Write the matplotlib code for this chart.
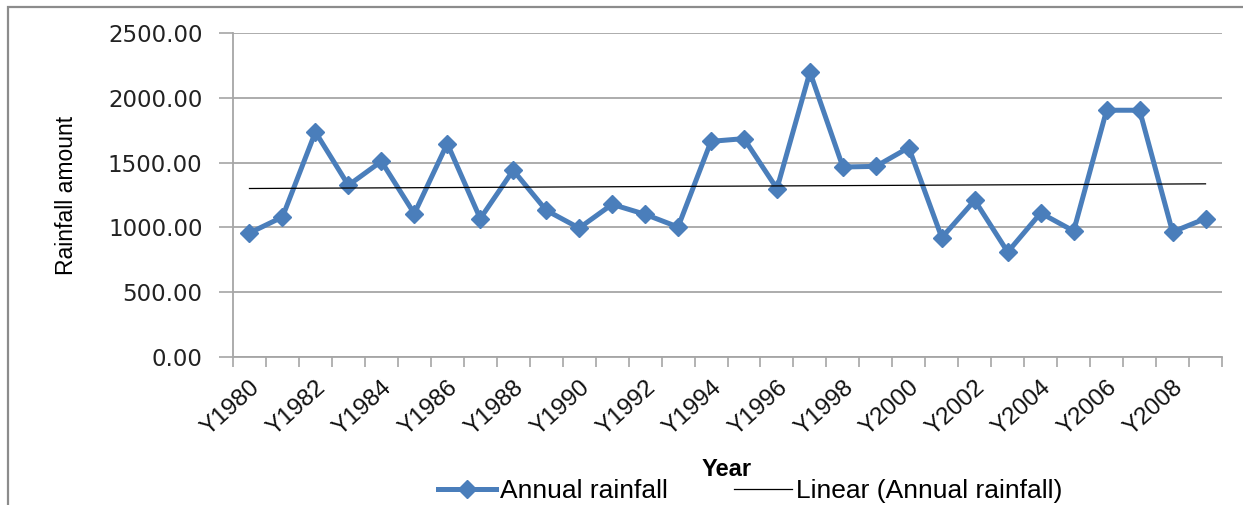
import numpy as np
import matplotlib
matplotlib.use("Agg")
import matplotlib.pyplot as plt
from matplotlib.patches import Rectangle
from matplotlib.lines import Line2D

years = [f"Y{y}" for y in range(1980, 2010)]
rainfall = [957, 1080, 1736, 1325, 1510, 1106, 1647, 1068, 1441, 1132,
            995, 1178, 1101, 1003, 1664, 1685, 1299, 2199, 1466, 1471,
            1616, 921, 1209, 810, 1111, 972, 1904, 1904, 965, 1068]
y_ticks = [0, 500, 1000, 1500, 2000, 2500]

BLUE = "#4A7EBB"
GRID = "#A6A6A6"
SANS = ["Liberation Sans", "DejaVu Sans"]

W, H = 1243, 505
fig = plt.figure(figsize=(W / 100, H / 100), dpi=100)

# chart-area frame
fig.patches.append(Rectangle((8 / W, -0.1), 1.2, 1 - 7 / H + 0.1,
                             transform=fig.transFigure, fill=False,
                             edgecolor="#8C8C8C", linewidth=1.6))

ax = fig.add_axes([233 / W, 1 - 357 / H, (1222 - 233) / W, (357 - 33) / H])
x = np.arange(len(years))

ax.plot(x, rainfall, color=BLUE, linewidth=3.6, marker="D", markersize=9.5,
        markerfacecolor=BLUE, markeredgecolor=BLUE, zorder=3)

# linear trend of the annual series
slope, intercept = np.polyfit(x, rainfall, 1)
ax.plot(x, slope * x + intercept, color="black", linewidth=0.9, zorder=4)

ax.set_xlim(-0.5, len(years) - 0.5)
ax.set_ylim(0, 2500)
ax.set_yticks(y_ticks)
ax.set_yticklabels([f"{v:.2f}" for v in y_ticks], fontsize=16.5,
                   family="DejaVu Sans", color="#222222")
ax.yaxis.grid(True, color=GRID, linewidth=1.3)
ax.set_axisbelow(True)

ax.set_xticks(x[::2])
ax.set_xticklabels(years[::2], rotation=42, ha="right", va="top",
                   rotation_mode="anchor", fontsize=17.5, family=SANS,
                   color="#111111")
ax.set_xticks(np.arange(-0.5, len(years), 1.0), minor=True)
ax.tick_params(axis="x", which="major", length=0, pad=14)
ax.tick_params(axis="x", which="minor", length=7, width=1.2, color=GRID,
               direction="out")
ax.tick_params(axis="y", length=10, width=1.2, color=GRID, pad=12)

for side in ("top", "right"):
    ax.spines[side].set_visible(False)
for side in ("left", "bottom"):
    ax.spines[side].set_color(GRID)
    ax.spines[side].set_linewidth(1.3)

ax.set_ylabel("Rainfall amount", fontsize=16.5, family=SANS, labelpad=0)
ax.yaxis.set_label_coords(78 / W, 1 - 195 / H, transform=fig.transFigure)
fig.text(727 / W, 1 - 470 / H, "Year", fontsize=17, fontweight="bold",
         family=SANS, ha="center", va="center")

handles = [
    Line2D([], [], color=BLUE, linewidth=3.6, marker="D", markersize=9.5),
    Line2D([], [], color="black", linewidth=0.9),
]
fig.legend(handles, ["Annual rainfall", "Linear (Annual rainfall)"],
           loc="center", bbox_to_anchor=(750 / W, 1 - 491 / H), ncol=2,
           frameon=False, prop={"family": SANS, "size": 19},
           handlelength=2.2, handletextpad=0.15, columnspacing=2.5)

fig.savefig("out.png", dpi=100)
